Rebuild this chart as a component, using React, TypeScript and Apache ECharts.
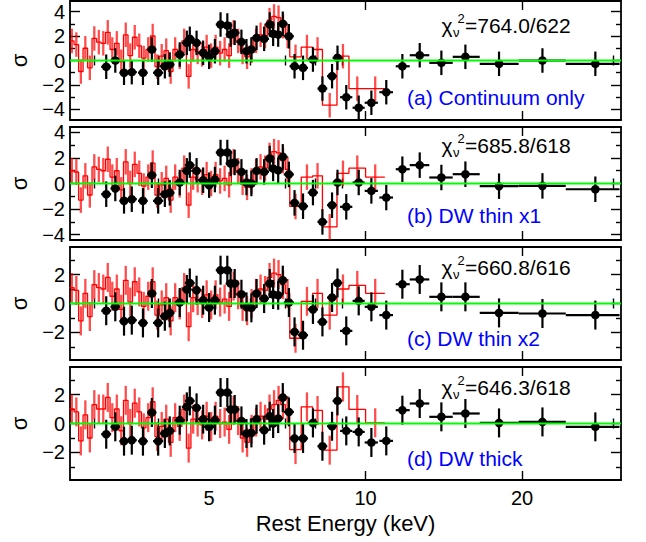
import React, { useEffect, useRef } from 'react';
import * as echarts from 'echarts';

const FONT = '"Liberation Sans", Arial, Helvetica, sans-serif';

// ---------- axis data ----------
const X_MIN = 2.7;
const X_MAX = 31;
const X_MAJOR_TICKS = [10, 20];
const X_MINOR_TICKS = [3, 4, 5, 6, 7, 8, 9, 30];
const X_LABELS = [5, 10, 20];

const Y_RANGE = [4.86, 4.43, 3.9, 3.9];
const Y_MAJOR = [
  [-4, -2, 0, 2, 4],
  [-4, -2, 0, 2, 4],
  [-2, 0, 2],
  [-2, 0, 2],
];
const Y_MINOR = [
  [-3, -1, 1, 3],
  [-3, -1, 1, 3],
  [-3, -1, 1, 3],
  [-3, -1, 1, 3],
];

const RESID_ERR = 1; // residuals in sigma units: error bars are +/-1

// ---------- black data (energies, bin edges, residuals) ----------
const blackE = [3.17, 3.30, 3.43, 3.55, 3.73, 3.88, 3.99, 4.11, 4.20, 4.39, 4.53, 4.59, 4.73, 4.87, 5.00, 5.13, 5.26, 5.42, 5.50, 5.60, 5.77, 5.90, 6.03, 6.17, 6.38, 6.54, 6.64, 6.79, 6.93, 7.12, 7.30, 7.58, 7.92, 8.26, 8.62, 8.83, 9.18, 9.70, 10.26, 10.96, 11.77, 12.71, 13.99, 15.56, 18.06, 21.89, 27.67];
const blackLo = [3.10, 3.23, 3.36, 3.47, 3.65, 3.80, 3.90, 4.02, 4.11, 4.29, 4.43, 4.49, 4.63, 4.76, 4.89, 5.02, 5.15, 5.30, 5.38, 5.48, 5.64, 5.77, 5.90, 6.04, 6.24, 6.40, 6.50, 6.64, 6.78, 6.96, 7.14, 7.41, 7.74, 8.08, 8.43, 8.64, 8.93, 9.44, 9.96, 10.63, 11.43, 12.16, 13.26, 14.71, 16.58, 19.70, 24.27];
const blackHi = [3.24, 3.37, 3.50, 3.63, 3.81, 3.96, 4.08, 4.20, 4.29, 4.49, 4.63, 4.69, 4.83, 4.98, 5.11, 5.24, 5.37, 5.54, 5.62, 5.72, 5.90, 6.03, 6.16, 6.30, 6.52, 6.68, 6.78, 6.94, 7.08, 7.28, 7.46, 7.75, 8.10, 8.44, 8.81, 9.02, 9.43, 9.96, 10.56, 11.29, 12.16, 13.26, 14.71, 16.58, 19.70, 24.27, 30.8];

const blackA = [-0.51, 0.0, -1.0, -0.95, -1.0, 0.9, -1.0, -0.47, -0.33, 0.49, 1.44, 1.77, 1.44, 0.63, 0.3, 0.76, 2.94, 2.86, 2.12, 2.26, 1.52, 0.76, 0.9, 1.85, 1.77, 2.94, 2.18, 2.12, 3.0, 1.98, -0.47, -0.6, 0.08, -2.29, -1.28, 0.22, -3.0, -3.86, -3.45, -2.59, -0.47, 0.43, -0.19, 0.3, -0.27, 0.0, -0.27];
const blackB = [-0.84, -0.39, -1.36, -1.23, -1.36, 0.65, -1.36, -0.84, -0.73, 0.08, 0.99, 1.44, 0.99, 0.26, -0.13, 0.31, 2.43, 2.43, 1.57, 1.65, 0.91, 0.08, 0.0, 0.99, 0.91, 1.96, 1.18, 1.04, 2.09, 0.71, -1.52, -1.78, -0.71, -3.01, -1.7, 0.08, -1.83, 0.08, -0.58, -1.1, 1.12, 1.44, 0.47, 0.73, -0.21, -0.19, -0.45];
const blackC = [-0.5, -0.23, -1.22, -1.15, -1.34, 0.69, -1.34, -0.88, -0.65, 0.07, 0.97, 1.42, 0.92, 0.23, -0.28, 0.23, 2.3, 2.3, 1.38, 1.38, 0.64, -0.23, -0.3, 0.69, 0.34, 1.38, 0.62, 0.57, 1.61, 0.07, -1.96, -2.19, -0.41, -1.27, 0.41, 1.42, -1.89, 0.18, -0.23, -0.8, 1.33, 1.66, 0.46, 0.46, -0.65, -0.69, -0.8];
const blackD = [-0.74, -0.23, -1.22, -1.15, -1.22, 0.76, -1.22, -0.69, -0.51, 0.23, 1.15, 1.56, 1.08, 0.3, -0.23, 0.23, 2.14, 2.14, 0.97, 0.97, 0.18, -0.69, -0.65, 0.3, -0.46, 0.5, 0.0, 0.34, 1.79, 0.8, -1.03, -1.03, 0.04, -1.57, -0.19, 1.56, -0.51, -0.58, -1.31, -1.2, 0.92, 1.38, 0.46, 0.69, 0.04, 0.11, -0.23];

// ---------- red data (bin edges, residuals) ----------
const redEdges = [2.695, 2.749, 2.805, 2.861, 2.919, 2.977, 3.037, 3.098, 3.160, 3.224, 3.289, 3.355, 3.422, 3.491, 3.561, 3.633, 3.706, 3.780, 3.856, 3.934, 4.013, 4.094, 4.176, 4.260, 4.346, 4.433, 4.522, 4.613, 4.706, 4.800, 4.897, 4.995, 5.096, 5.198, 5.303, 5.409, 5.518, 5.629, 5.742, 5.858, 5.975, 6.095, 6.218, 6.343, 6.470, 6.600, 6.733, 6.869, 7.007, 7.148, 7.52, 7.91, 8.26, 8.81, 9.29, 10.0, 10.89];

const redA = [1.6, 1.3, -0.9, 1.0, -0.6, 1.8, 1.5, 1.4, 2.3, 0.9, 1.4, -0.1, 2.1, 0.4, 1.9, 1.2, 0.2, 0.9, 2.0, -0.5, 0.35, 0.8, -0.9, 0.9, 0.3, 1.6, -1.3, 0.9, 0.7, 0.5, 1.1, 0.4, 1.1, 0.6, 0.9, 0.4, 2.3, 1.6, 0.7, 0.3, 0.8, 1.6, 2.1, 2.0, 3.3, 3.6, 3.5, 2.8, 2.0, 0.3, 1.1, 0.9, -3.65, 0.35, -2.3, -2.3];
const redB = [1.0, 0.9, -1.3, 0.6, -0.9, 1.3, 1.1, 1.0, 1.9, 0.5, 1.0, -0.5, 1.7, 0.0, 1.5, 0.8, -0.2, 0.5, 1.6, -0.9, -0.1, 0.4, -1.3, 0.5, -0.1, 1.2, -1.7, 0.5, 0.3, 0.1, 0.7, 0.0, 0.7, 0.2, 0.4, -0.1, 1.7, 1.0, 0.1, -0.3, 0.2, 0.9, 1.3, 1.2, 2.2, 2.5, 2.4, 1.8, 1.1, -1.8, 0.5, 0.6, -3.4, 0.8, 1.2, 0.5];
const redC = [1.1, 0.9, -1.2, 0.7, -0.9, 1.3, 1.1, 1.0, 1.8, 0.5, 1.0, -0.4, 1.6, 0.1, 1.5, 0.8, -0.2, 0.5, 1.5, -0.8, -0.1, 0.4, -1.2, 0.4, -0.1, 1.1, -1.6, 0.4, 0.2, 0.0, 0.6, -0.1, 0.6, 0.1, 0.3, -0.2, 1.2, 0.6, -0.2, -0.5, 0.0, 0.7, 1.0, 0.9, 1.8, 2.1, 2.0, 1.3, 0.7, -2.4, 0.15, 0.7, -0.8, 1.0, 1.25, 0.7];
const redD = [1.0, 0.8, -1.2, 0.6, -1.0, 1.3, 1.0, 1.0, 1.8, 0.4, 1.0, -0.5, 1.6, 0.0, 1.4, 0.8, -0.3, 0.4, 1.5, -0.9, -0.2, 0.3, -1.3, 0.4, -0.2, 1.0, -1.7, 0.3, 0.1, -0.1, 0.5, -0.2, 0.5, 0.0, 0.1, -0.4, 0.9, 0.2, -1.0, -1.3, -0.4, 0.1, 0.5, 0.3, 1.0, 1.3, 1.6, 1.3, 0.9, -1.8, 1.15, 0.9, -1.84, 2.53, 0.97, 0.05];

// ---------- texts ----------
const chiValues = ['=764.0/622', '=685.8/618', '=660.8/616', '=646.3/618'];
const panelLabels = ['(a) Continuum only', '(b) DW thin x1', '(c) DW thin x2', '(d) DW thick'];

// ---------- layout ----------
const GRID_LEFT = 70;
const GRID_WIDTH = 551;
const TOPS = [1, 127, 247, 367];
const HEIGHTS = [119, 113, 113, 113];
const CHI_Y = [25, 145, 267, 387];
const LABEL_Y = [97, 215, 338, 458];

const lg = (v: number) => Math.log10(v);

function buildOption() {
  const blacks = [blackA, blackB, blackC, blackD];
  const reds = [redA, redB, redC, redD];
  const grid: any[] = [];
  const xAxis: any[] = [];
  const yAxis: any[] = [];
  const series: any[] = [];
  const graphic: any[] = [];
  const axisLine = { show: true, onZero: false, lineStyle: { color: '#000', width: 1.8 } };
  const tickStyle = { color: '#000', width: 1.4 };

  for (let i = 0; i < 4; i++) {
    grid.push({ left: GRID_LEFT, width: GRID_WIDTH, top: TOPS[i], height: HEIGHTS[i], show: false, containLabel: false, outerBoundsMode: 'none' });
    const xb = { gridIndex: i, type: 'value', min: lg(X_MIN), max: lg(X_MAX), splitLine: { show: false }, axisPointer: { show: false } };
    xAxis.push({
      ...xb, position: 'bottom', axisLine,
      axisTick: { show: true, inside: true, length: 9, customValues: X_MAJOR_TICKS.map(lg), lineStyle: tickStyle },
      axisLabel: i === 3
        ? { show: true, customValues: X_LABELS.map(lg), formatter: (v: number) => String(Math.round(Math.pow(10, v))), fontSize: 20, color: '#000', fontFamily: FONT, margin: 8 }
        : { show: false },
      name: i === 3 ? 'Rest Energy (keV)' : '', nameLocation: 'middle', nameGap: 32,
      nameTextStyle: { fontSize: 22, color: '#000', fontFamily: FONT },
    });
    xAxis.push({ ...xb, position: 'bottom', axisLine: { show: false }, axisLabel: { show: false },
      axisTick: { show: true, inside: true, length: 5, customValues: X_MINOR_TICKS.map(lg), lineStyle: tickStyle } });
    xAxis.push({ ...xb, position: 'top', axisLine, axisLabel: { show: false },
      axisTick: { show: true, inside: true, length: 9, customValues: X_MAJOR_TICKS.map(lg), lineStyle: tickStyle } });
    xAxis.push({ ...xb, position: 'top', axisLine: { show: false }, axisLabel: { show: false },
      axisTick: { show: true, inside: true, length: 5, customValues: X_MINOR_TICKS.map(lg), lineStyle: tickStyle } });

    const yb = { gridIndex: i, type: 'value', min: -Y_RANGE[i], max: Y_RANGE[i], splitLine: { show: false }, axisPointer: { show: false } };
    yAxis.push({
      ...yb, position: 'left', axisLine,
      axisTick: { show: true, inside: true, length: 10, customValues: Y_MAJOR[i], lineStyle: tickStyle },
      axisLabel: { show: true, customValues: Y_MAJOR[i], formatter: (v: number) => (v < 0 ? '\u2212' + Math.abs(v) : String(v)), fontSize: 20, color: '#000', fontFamily: FONT, margin: 5 },
      name: 'σ', nameLocation: 'middle', nameGap: 40, nameRotate: 90,
      nameTextStyle: { fontSize: 22, color: '#000', fontFamily: FONT },
    });
    yAxis.push({ ...yb, position: 'left', axisLine: { show: false }, axisLabel: { show: false },
      axisTick: { show: true, inside: true, length: 5, customValues: Y_MINOR[i], lineStyle: tickStyle } });
    yAxis.push({ ...yb, position: 'right', axisLine, axisLabel: { show: false },
      axisTick: { show: true, inside: true, length: 10, customValues: Y_MAJOR[i], lineStyle: tickStyle } });
    yAxis.push({ ...yb, position: 'right', axisLine: { show: false }, axisLabel: { show: false },
      axisTick: { show: true, inside: true, length: 5, customValues: Y_MINOR[i], lineStyle: tickStyle } });

    const xi = 4 * i;
    const yi = 4 * i;
    const red = reds[i];

    // red step histogram
    const stepData: number[][] = [];
    for (let k = 0; k < red.length; k++) {
      stepData.push([lg(redEdges[k]), red[k]]);
      stepData.push([lg(redEdges[k + 1]), red[k]]);
    }
    series.push({ type: 'line', xAxisIndex: xi, yAxisIndex: yi, data: stepData, symbol: 'none', showSymbol: false,
      lineStyle: { color: '#ff0000', width: 1.3 }, z: 2, silent: true });

    // red error bars
    const redErrData = red.map((v, k) => [(lg(redEdges[k]) + lg(redEdges[k + 1])) / 2, v]);
    series.push({
      type: 'custom', xAxisIndex: xi, yAxisIndex: yi, data: redErrData, z: 2, silent: true, clip: true,
      encode: { x: 0, y: 1 },
      renderItem: (params: any, api: any) => {
        const x = api.value(0);
        const y = api.value(1);
        const p1 = api.coord([x, y - RESID_ERR]);
        const p2 = api.coord([x, y + RESID_ERR]);
        return { type: 'line', shape: { x1: p1[0], y1: p1[1], x2: p2[0], y2: p2[1] },
          style: { stroke: 'rgba(255,0,0,0.7)', lineWidth: 2.3 } };
      },
    });

    // black points
    const bl = blacks[i];
    const blackData = bl.map((v, k) => [lg(blackE[k]), v, lg(blackLo[k]), lg(blackHi[k])]);
    series.push({
      type: 'custom', xAxisIndex: xi, yAxisIndex: yi, data: blackData, z: 3, silent: true, clip: true,
      encode: { x: 0, y: 1 },
      renderItem: (params: any, api: any) => {
        const x = api.value(0);
        const y = api.value(1);
        const c = api.coord([x, y]);
        const t = api.coord([x, y + RESID_ERR]);
        const b = api.coord([x, y - RESID_ERR]);
        const l = api.coord([api.value(2), y]);
        const r = api.coord([api.value(3), y]);
        return {
          type: 'group',
          children: [
            { type: 'line', shape: { x1: l[0], y1: c[1], x2: r[0], y2: c[1] }, style: { stroke: '#000', lineWidth: 2.2 } },
            { type: 'line', shape: { x1: c[0], y1: t[1], x2: c[0], y2: b[1] }, style: { stroke: '#000', lineWidth: 2.2 } },
            { type: 'circle', shape: { cx: c[0], cy: c[1], r: 4.3 }, style: { fill: '#000' } },
          ],
        };
      },
    });

    // zero line
    series.push({ type: 'line', xAxisIndex: xi, yAxisIndex: yi, data: [[lg(X_MIN), 0], [lg(X_MAX), 0]], symbol: 'none',
      lineStyle: { color: '#00ff00', width: 2 }, z: 5, silent: true });

    // texts
    const cy = CHI_Y[i];
    graphic.push({ type: 'text', x: 441.5, y: cy, z: 10, style: { text: 'χ', fontSize: 21, fontFamily: FONT, fill: '#000', verticalAlign: 'middle' } });
    graphic.push({ type: 'text', x: 453, y: cy + 7, z: 10, style: { text: 'ν', fontSize: 13, fontFamily: FONT, fill: '#000', verticalAlign: 'middle' } });
    graphic.push({ type: 'text', x: 457.5, y: cy - 7, z: 10, style: { text: '2', fontSize: 13, fontFamily: FONT, fill: '#000', verticalAlign: 'middle' } });
    graphic.push({ type: 'text', x: 465, y: cy, z: 10, style: { text: chiValues[i], fontSize: 21, fontFamily: FONT, fill: '#000', verticalAlign: 'middle' } });
    graphic.push({ type: 'text', x: 407, y: LABEL_Y[i], z: 10, style: { text: panelLabels[i], fontSize: 21, fontFamily: FONT, fill: '#0000ff', verticalAlign: 'middle' } });
  }

  return { animation: false, backgroundColor: '#ffffff', grid, xAxis, yAxis, series, graphic };
}

export default function App() {
  const ref = useRef<HTMLDivElement>(null);
  useEffect(() => {
    if (!ref.current) return;
    const chart = echarts.init(ref.current, null, { renderer: 'svg' });
    chart.setOption(buildOption() as any);
    return () => chart.dispose();
  }, []);
  return <div ref={ref} style={{ position: 'absolute', left: 0, top: 0, width: 646, height: 542, background: '#fff' }} />;
}
